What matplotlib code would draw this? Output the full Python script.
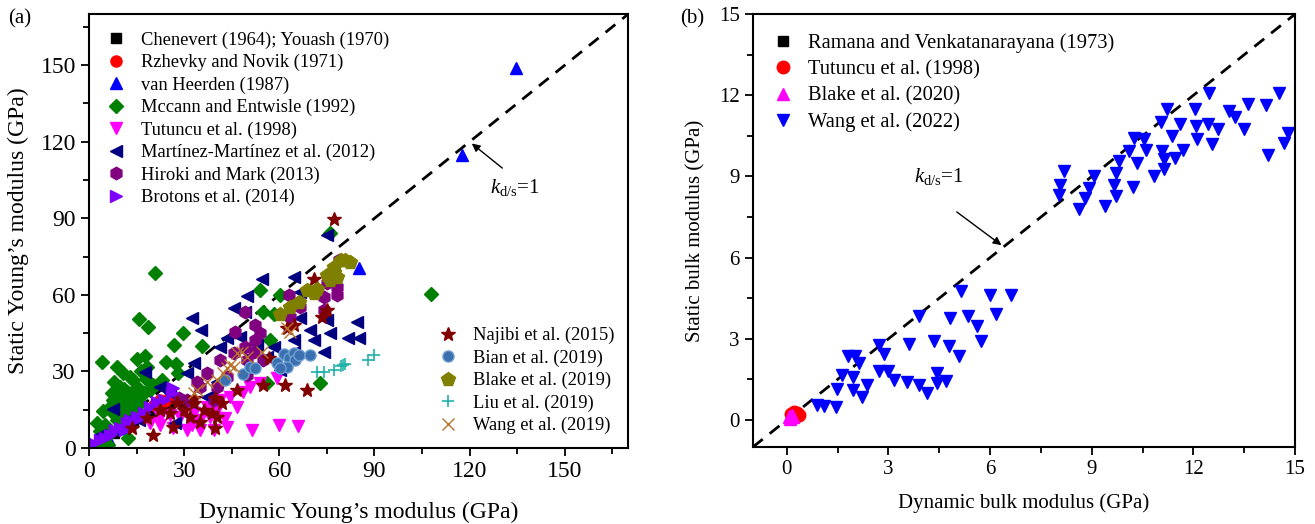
import matplotlib.pyplot as plt
from matplotlib.ticker import MultipleLocator

plt.rcParams['font.family'] = ['Liberation Serif', 'DejaVu Serif']
plt.rcParams['mathtext.fontset'] = 'custom'
plt.rcParams['mathtext.rm'] = 'Liberation Serif'
plt.rcParams['mathtext.it'] = 'Liberation Serif:italic'

# ---- (a) Young's modulus: dynamic (x) vs static (y), GPa ----
chenevert_x = [8, 14, 20, 25, 30]
chenevert_y = [6, 10, 14, 16, 18]
rzhevky_x = [20.5, 22.5, 24.0, 25.5]
rzhevky_y = [17.0, 19.0, 18.5, 20.0]
heerden_x = [134.5, 117.5, 85.0, 6.0, 10.0]
heerden_y = [149.0, 115.0, 70.5, 4.0, 8.0]
mccann_x = [20.8, 15.9, 18.7, 26.8, 29.6, 35.6, 53.8, 55.0, 58.2, 60.3, 75.9, 4.2, 8.7,
            15.1, 17.7, 18.4, 24.3, 27.5, 22.9, 28.2, 57.0, 72.9, 56.1, 107.7,
            1.4, 5.6, 2.4, 4.5, 7.2, 7.7, 9.8, 11.4, 13.0, 14.0, 15.1, 16.1, 11.9, 6.6,
            12.4, 8.7, 17.2, 19.3, 20.3, 10.8, 13.5, 10.3, 7.7, 9.3, 15.0, 3.0, 6.0,
            12.0, 14.5, 18.0, 10.0, 5.0, 3.5, 8.0, 11.0, 13.0, 16.5, 6.5, 9.0]
mccann_y = [68.4, 50.5, 47.3, 40.2, 45.2, 39.9, 62.1, 53.4, 52.7, 59.9, 84.1, 33.6, 31.9,
            35.0, 36.0, 31.9, 33.9, 32.8, 26.6, 29.2, 42.3, 25.3, 25.6, 60.5,
            0.5, 0.5, 9.7, 14.6, 21.4, 18.8, 24.0, 20.1, 18.8, 26.6, 24.0, 17.5, 12.3, 5.7,
            3.8, 11.0, 21.4, 22.7, 24.7, 29.2, 16.2, 14.9, 13.6, 17.5, 15.0, 2.0, 1.0,
            22.0, 20.0, 27.0, 17.0, 9.0, 6.5, 26.0, 23.0, 28.0, 30.0, 16.0, 20.5]
tutuncu_x = [51.4, 59.8, 65.8, 43.5, 39.3, 35.0, 30.8, 26.6, 22.4, 19.3, 46.6, 50.8, 54.0,
             59.3, 44.5, 41.4, 37.2, 33.0, 28.7, 25.6, 22.4, 35.0, 38.2, 40.3, 48.7, 43.0, 32.4]
tutuncu_y = [7.0, 9.0, 8.7, 8.4, 7.0, 7.0, 7.0, 8.0, 9.0, 9.7, 16.2, 24.0, 25.3,
             27.3, 20.1, 18.8, 16.2, 13.6, 12.3, 12.9, 12.3, 11.0, 12.3, 14.9, 22.0, 11.6, 9.0]
martinez_x = [75.0, 64.5, 54.5, 49.8, 45.6, 49.3, 32.4, 35.3, 66.6, 69.8, 75.0, 76.0, 84.6,
              81.8, 85.0, 58.2, 64.5, 74.0, 60.3, 47.7, 43.5, 41.4, 33.0, 30.8, 17.7, 7.7,
              15.6, 27.2, 31.9, 37.2, 40.3, 22.4, 25.6, 3.5, 11.9, 53.0, 56.1, 64.5, 70.8, 66.6]
martinez_y = [83.4, 67.1, 66.3, 59.7, 54.7, 53.4, 50.8, 46.2, 50.8, 46.2, 50.1, 44.9, 49.4,
              43.1, 43.1, 39.7, 37.7, 37.7, 30.5, 43.6, 43.0, 39.7, 33.2, 29.2, 29.9, 15.1,
              11.0, 9.7, 18.1, 20.1, 26.0, 24.0, 21.4, 5.1, 11.0, 40.3, 35.8, 42.3, 42.3, 61.2]
hiroki_x = [46.1, 49.3, 52.4, 52.4, 49.3, 45.6, 41.4, 37.2, 34.0, 35.0, 40.3, 39.3, 30.8, 28.5,
            49.8, 54.0, 63.0, 63.5, 66.6, 74.0, 78.2, 78.7, 75.0, 78.2, 74.0, 43.5, 49.8, 55.0, 51.9]
hiroki_y = [45.6, 53.4, 48.2, 42.3, 39.7, 37.1, 34.5, 29.2, 26.0, 24.0, 24.0, 18.8, 18.8, 19.5,
            34.5, 44.9, 60.0, 51.4, 55.4, 59.3, 60.0, 73.6, 64.5, 63.2, 54.0, 27.9, 28.6, 34.5, 37.7]
brotons_x = [3.5, 6.6, 9.8, 11.9, 15.0, 17.2, 19.3, 21.4, 26.6, 26.1, 23.5, 12.9, 8.2, 5.0,
             16.1, 11.4, 1.4]
brotons_y = [3.1, 5.1, 7.7, 9.7, 12.3, 13.6, 16.2, 18.1, 23.4, 21.4, 18.8, 11.0, 7.0, 3.8,
             11.6, 7.0, 1.8]
najibi_x = [77.2, 70.8, 75.0, 73.5, 64.5, 62.4, 56.6, 55.0, 61.9, 68.7, 46.6, 41.9, 40.3, 39.8,
            35.0, 33.0, 29.8, 27.7, 25.6, 22.4, 18.2, 13.5, 20.3, 26.6, 31.9, 38.7, 36.1, 33.0, 39.8]
najibi_y = [89.9, 66.4, 54.0, 51.2, 48.2, 46.9, 35.1, 24.7, 24.7, 22.7, 22.7, 17.5, 12.3, 7.7,
            10.3, 17.5, 14.9, 17.5, 13.6, 14.9, 11.6, 7.7, 5.1, 8.4, 12.3, 13.6, 14.9, 19.5, 19.5]
bian_x = [42.9, 48.5, 50.8, 52.4, 59.3, 61.4, 62.9, 64.5, 65.1, 62.4, 60.3, 66.1, 69.8]
bian_y = [26.6, 29.0, 31.9, 31.2, 33.2, 36.8, 35.1, 37.1, 34.5, 31.9, 31.2, 36.4, 36.4]
blake19_x = [60.3, 63.5, 66.1, 68.7, 71.9, 70.8, 75.0, 77.2, 79.3, 82.4, 76.0, 78.2, 77.2, 80.8]
blake19_y = [52.7, 55.4, 57.3, 61.9, 62.5, 60.6, 67.8, 69.1, 73.6, 73.0, 65.8, 67.1, 71.0, 73.6]
liu_x = [71.9, 74.0, 77.2, 79.3, 80.8, 88.1, 89.7, 80.2]
liu_y = [29.9, 29.9, 30.5, 32.1, 32.8, 34.5, 36.4, 32.5]
wang19_x = [40.3, 37.2, 34.0, 33.0, 42.4, 44.5, 46.6, 48.2, 49.8, 45.6, 43.5, 62.4, 63.5, 54.5]
wang19_y = [26.6, 26.0, 22.7, 21.4, 29.2, 32.5, 37.1, 37.7, 35.8, 31.9, 31.2, 46.9, 45.6, 37.7]

# ---- (b) bulk modulus: dynamic (x) vs static (y), GPa ----
ramana_x = [0.25, 0.3]
ramana_y = [0.15, 0.2]
tutuncu98_x = [0.12, 0.2, 0.3, 0.35, 0.25]
tutuncu98_y = [0.22, 0.3, 0.25, 0.18, 0.12]
blake20_x = [0.05, 0.1, 0.15, 0.08, 0.18]
blake20_y = [0.1, 0.15, 0.2, 0.05, 0.1]
wang22_x = [0.89, 1.09, 1.44, 1.49, 1.63, 1.81, 2.01, 2.13, 1.96, 1.96, 2.22, 2.37, 2.71, 2.86,
            2.71, 2.98, 3.16, 3.55, 3.89, 3.60, 3.91, 4.14, 4.33, 4.43, 4.43, 4.70, 4.83, 4.80,
            5.07, 5.13, 5.35, 5.62, 5.74, 6.01, 6.16, 6.63,
            8.17, 8.07, 8.02, 8.63, 8.81, 8.91, 9.06, 9.40, 9.72, 9.65, 9.72, 9.79, 10.21, 10.33,
            10.09, 10.24, 10.53, 10.61, 10.83, 11.05, 11.07, 11.12, 11.14, 11.22, 11.37, 11.47,
            11.61, 11.68, 12.04, 12.08, 12.11, 12.43, 12.47, 12.55, 12.73, 13.06, 13.22, 13.48,
            13.61, 14.14, 14.20, 14.54, 14.68, 14.80]
wang22_y = [0.56, 0.52, 0.49, 1.14, 1.67, 2.37, 2.37, 2.10, 1.60, 1.09, 0.86, 1.30, 2.78, 2.44,
            1.81, 1.81, 1.48, 1.42, 1.30, 2.80, 3.83, 1.01, 2.91, 1.72, 1.35, 1.44, 3.77, 2.74,
            2.35, 4.75, 3.83, 3.46, 2.90, 4.63, 3.90, 4.63,
            9.20, 8.70, 8.33, 7.78, 8.21, 8.58, 9.01, 7.90, 8.27, 8.67, 9.13, 9.57, 8.60, 9.50,
            9.93, 10.43, 10.37, 9.97, 9.01, 11.01, 9.93, 9.63, 9.26, 11.48, 10.50, 9.69,
            10.93, 9.97, 11.48, 10.86, 10.37, 10.93, 12.10, 10.19, 10.77, 11.42, 11.20, 10.74,
            11.67, 11.63, 9.78, 12.10, 10.22, 10.62]

fig = plt.figure(figsize=(13.15, 5.24), dpi=100)
ax1 = fig.add_axes([0.0677, 0.145, 0.41, 0.828])
ax2 = fig.add_axes([0.5726, 0.147, 0.4122, 0.826])

ms = 8
h = []
h.append(ax1.plot(chenevert_x, chenevert_y, 's', color='black', ms=ms-1, label='Chenevert (1964); Youash (1970)')[0])
h.append(ax1.plot(rzhevky_x, rzhevky_y, 'o', color='red', ms=ms, label='Rzhevky and Novik (1971)')[0])
h.append(ax1.plot(heerden_x, heerden_y, '^', color='blue', ms=ms, label='van Heerden (1987)')[0])
h.append(ax1.plot(mccann_x, mccann_y, 'D', color='#008000', ms=ms-1, label='Mccann and Entwisle (1992)')[0])
h.append(ax1.plot(tutuncu_x, tutuncu_y, 'v', color='#ff00ff', ms=ms, label='Tutuncu et al. (1998)')[0])
h.append(ax1.plot(martinez_x, martinez_y, '<', color='#000080', ms=ms, label='Martínez-Martínez et al. (2012)')[0])
h.append(ax1.plot(hiroki_x, hiroki_y, 'h', color='#800080', ms=ms+1, label='Hiroki and Mark (2013)')[0])
h.append(ax1.plot(brotons_x, brotons_y, '>', color='#8000ff', ms=ms, label='Brotons et al. (2014)')[0])
h2 = []
h2.append(ax1.plot(najibi_x, najibi_y, '*', color='#800000', ms=ms+2, label='Najibi et al. (2015)')[0])
h2.append(ax1.plot(bian_x, bian_y, 'o', color='#3a70b0', mec='#6e9fd0', ms=ms, label='Bian et al. (2019)')[0])
h2.append(ax1.plot(blake19_x, blake19_y, 'p', color='#808000', ms=ms+2, label='Blake et al. (2019)')[0])
h2.append(ax1.plot(liu_x, liu_y, '+', color='#20b2aa', ms=ms, mew=1.2, label='Liu et al. (2019)')[0])
h2.append(ax1.plot(wang19_x, wang19_y, 'x', color='#b8732c', ms=ms, mew=1.0, label='Wang et al. (2019)')[0])

ax1.plot([0, 170], [0, 170], color='black', lw=2, linestyle=(0, (4.5, 3.2)), zorder=1)
ax1.annotate('', xy=(120, 120), xytext=(131, 109),
             arrowprops=dict(arrowstyle='-|>', color='black', lw=1, mutation_scale=12))
ax1.text(126.5, 102, r'$k_{\mathrm{d/s}}$=1', fontsize=15, va='center', ha='left')

leg1 = ax1.legend(handles=h, loc='upper left', bbox_to_anchor=(0.0, 1.0), frameon=False,
                  fontsize=13.3, handlelength=1.0, handletextpad=0.85, labelspacing=0.28,
                  borderaxespad=0.55, numpoints=1)
ax1.add_artist(leg1)
ax1.legend(handles=h2, loc='lower right', bbox_to_anchor=(1.0, 0.0), frameon=False,
           fontsize=13.3, handlelength=1.0, handletextpad=0.85, labelspacing=0.28,
           borderaxespad=0.35, numpoints=1)

ax1.set_xlim(0, 170)
ax1.set_ylim(0, 170)
ax1.xaxis.set_major_locator(MultipleLocator(30))
ax1.xaxis.set_minor_locator(MultipleLocator(15))
ax1.yaxis.set_major_locator(MultipleLocator(30))
ax1.yaxis.set_minor_locator(MultipleLocator(15))
ax1.set_xlabel('Dynamic Young\u2019s modulus (GPa)', fontsize=17, labelpad=14)
ax1.set_ylabel('Static Young\u2019s modulus (GPa)', fontsize=17, labelpad=8)

# panel (b)
ms2 = 9
g = []
g.append(ax2.plot(ramana_x, ramana_y, 's', color='black', ms=ms2-2, label='Ramana and Venkatanarayana (1973)')[0])
g.append(ax2.plot(tutuncu98_x, tutuncu98_y, 'o', color='red', ms=ms2, label='Tutuncu et al. (1998)')[0])
g.append(ax2.plot(blake20_x, blake20_y, '^', color='#ff00ff', ms=ms2, label='Blake et al. (2020)')[0])
g.append(ax2.plot(wang22_x, wang22_y, 'v', color='blue', ms=ms2, label='Wang et al. (2022)')[0])

ax2.plot([-1, 15], [-1, 15], color='black', lw=2, linestyle=(0, (4.5, 3.2)), zorder=1)
ax2.annotate('', xy=(6.4, 6.4), xytext=(4.95, 7.75),
             arrowprops=dict(arrowstyle='-|>', color='black', lw=1, mutation_scale=12))
ax2.text(3.75, 9.0, r'$k_{\mathrm{d/s}}$=1', fontsize=15, va='center', ha='left')

ax2.legend(handles=g, loc='upper left', bbox_to_anchor=(0.0, 1.0), frameon=False,
           fontsize=14.8, handlelength=1.0, handletextpad=0.75, labelspacing=0.33,
           borderaxespad=0.55, numpoints=1)

ax2.set_xlim(-1, 15)
ax2.set_ylim(-1, 15)
ax2.xaxis.set_major_locator(MultipleLocator(3))
ax2.xaxis.set_minor_locator(MultipleLocator(1.5))
ax2.yaxis.set_major_locator(MultipleLocator(3))
ax2.yaxis.set_minor_locator(MultipleLocator(1.5))
ax2.set_xlabel('Dynamic bulk modulus (GPa)', fontsize=15, labelpad=10)
ax2.set_ylabel('Static bulk modulus (GPa)', fontsize=15, labelpad=10)

for ax, fs in ((ax1, 17), (ax2, 15)):
    ax.tick_params(which='both', direction='out', top=False, right=False, labelsize=fs, width=1.3)
    ax.tick_params(which='major', length=6)
    ax.tick_params(which='minor', length=4)
    for s in ax.spines.values():
        s.set_linewidth(1.5)

fig.text(0.006, 0.955, '(a)', fontsize=15)
fig.text(0.517, 0.955, '(b)', fontsize=15)

fig.savefig('out.png', dpi=100)
